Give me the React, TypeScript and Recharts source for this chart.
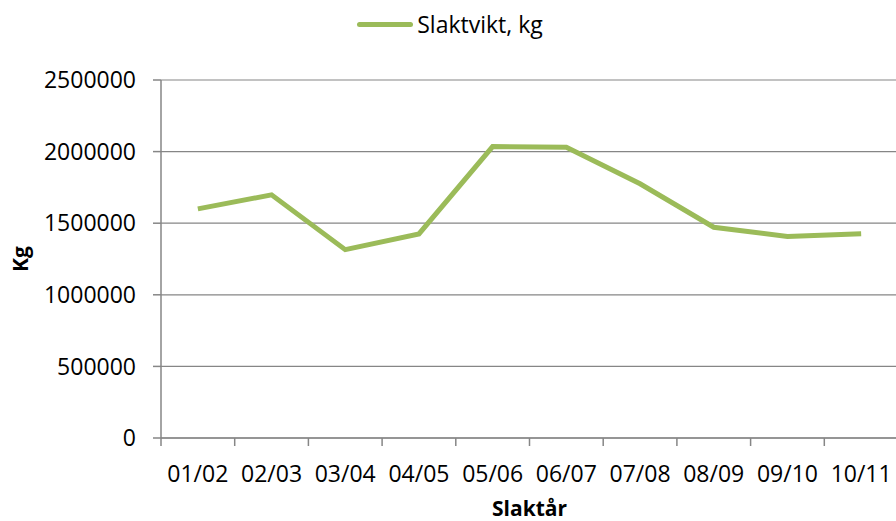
import { LineChart, Line, XAxis, YAxis, CartesianGrid, Legend } from 'recharts'

const seasons = ['01/02', '02/03', '03/04', '04/05', '05/06', '06/07', '07/08', '08/09', '09/10', '10/11']
const slaktvikt = [1600000, 1698000, 1315000, 1425000, 2035000, 2030000, 1775000, 1472000, 1407000, 1426000]
const yTicks = [0, 500000, 1000000, 1500000, 2000000, 2500000]

const data = seasons.map((s, i) => ({ season: s, kg: slaktvikt[i] }))

const W = 900
const H = 521
const AXIS_W = 161
const LEGEND_H = 32
const MARGIN = { top: 80 - LEGEND_H, right: 2, left: 0, bottom: 0 }
const PLOT_W = W - AXIS_W - MARGIN.right
const HALF_BAND = PLOT_W / seasons.length / 2
const GREEN = '#9BBB59'
const GRAY = '#868686'
const FONT = '"Open Sans", sans-serif'

// ticks sit between categories in the original, labels in the middle
const SeasonTick = (props: any) => {
  const { x, y, payload } = props
  return (
    <g>
      <line x1={x - HALF_BAND} x2={x - HALF_BAND} y1={y - 8} y2={y} stroke={GRAY} strokeWidth={1.5} />
      <text x={x} y={y + 36} textAnchor="middle" fontSize={23} fill="#000" fontFamily={FONT}>
        {payload.value}
      </text>
    </g>
  )
}

const LegendBox = () => (
  <div style={{ height: LEGEND_H, display: 'flex', justifyContent: 'center', alignItems: 'center', fontFamily: FONT, fontSize: 23, color: '#000' }}>
    <span style={{ display: 'inline-block', width: 56, height: 5, background: GREEN, borderRadius: 3, marginRight: 4 }} />
    <span>Slaktvikt, kg</span>
  </div>
)

export default function App() {
  return (
    <div style={{ position: 'absolute', top: 0, left: 0, width: 896, height: 521, overflow: 'hidden', background: '#fff' }}>
      <LineChart width={W} height={H} data={data} margin={MARGIN}>
        <CartesianGrid vertical={false} stroke={GRAY} strokeWidth={1.2} />
        <XAxis
          dataKey="season"
          height={83}
          padding={{ left: HALF_BAND, right: HALF_BAND }}
          axisLine={{ stroke: GRAY, strokeWidth: 1.5 }}
          tickLine={false}
          tickSize={8}
          tickMargin={0}
          interval={0}
          tick={<SeasonTick />}
          label={{
            content: () => (
              <text x={AXIS_W + PLOT_W / 2} y={516} textAnchor="middle" fontSize={21} fontWeight={700} fill="#000" fontFamily={FONT}>
                Slaktår
              </text>
            )
          }}
        />
        <YAxis
          width={AXIS_W}
          domain={[0, 2500000]}
          ticks={yTicks}
          interval={0}
          axisLine={{ stroke: GRAY, strokeWidth: 1.5 }}
          tickLine={{ stroke: GRAY, strokeWidth: 1.5 }}
          tickSize={8}
          tickMargin={17}
          tick={{ fontSize: 23, fill: '#000', fontFamily: FONT }}
          label={{
            content: () => (
              <text x={0} y={0} transform="translate(28,259) rotate(-90)" textAnchor="middle" fontSize={21} fontWeight={700} fill="#000" fontFamily={FONT}>
                Kg
              </text>
            )
          }}
        />
        <Legend verticalAlign="top" wrapperStyle={{ top: 8, left: 0, width: W }} content={<LegendBox />} />
        <Line type="linear" dataKey="kg" name="Slaktvikt, kg" stroke={GREEN} strokeWidth={5} dot={false} isAnimationActive={false} />
      </LineChart>
    </div>
  )
}
